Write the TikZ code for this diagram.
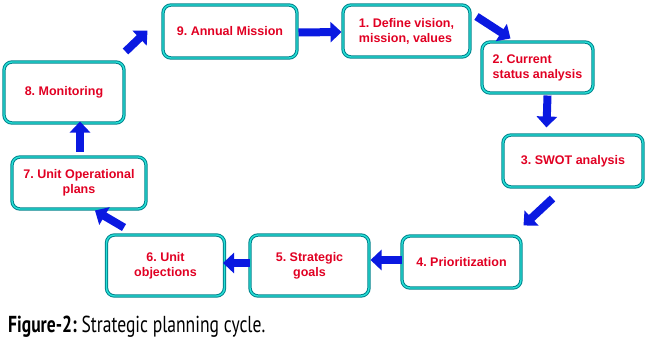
\documentclass[tikz,border=0pt]{standalone}
\usepackage{fontspec}
\usetikzlibrary{arrows.meta,calc}
\newfontfamily\boxfont{Liberation Sans}
\newfontfamily\capfont{PT Sans}
\frenchspacing
\definecolor{txtred}{RGB}{225,0,35}
\definecolor{arrblue}{RGB}{10,25,225}
\definecolor{tealdark}{RGB}{0,130,140}
\definecolor{cyanlight}{RGB}{40,225,215}
\tikzset{
  stagebox/.style={draw=tealdark, double=cyanlight, double distance=1.4pt, line width=1pt,
    rounded corners=8pt, fill=white, inner sep=0pt, align=center,
    font=\boxfont\bfseries\fontsize{12.5}{15}\selectfont\frenchspacing, text=txtred},
  flow/.style={draw=arrblue, line width=8pt, -{Triangle[width=20pt,length=11pt]}, arrblue}
}
\begin{document}
\begin{tikzpicture}[x=1pt,y=-1pt]
\useasboundingbox (0,0) rectangle (650,345);
\node[stagebox, minimum width=134pt, minimum height=53pt] (b9) at (230,31.5) {9. Annual Mission};
\node[stagebox, minimum width=127pt, minimum height=52pt, align=left] (b1) at (406.5,31) {1. Define vision,\\mission, values};
\node[stagebox, minimum width=111pt, minimum height=51pt, align=left] (b2) at (537.5,67.5) {2. Current\\status analysis};
\node[stagebox, minimum width=140pt, minimum height=52pt] (b3) at (573,161) {3. SWOT analysis};
\node[stagebox, minimum width=119pt, minimum height=52pt] (b4) at (461.5,262) {4. Prioritization};
\node[stagebox, minimum width=119pt, minimum height=61pt] (b5) at (309.5,265.5) {5. Strategic\\goals};
\node[stagebox, minimum width=118pt, minimum height=61pt] (b6) at (165.5,265.5) {6. Unit\\objections};
\node[stagebox, minimum width=134pt, minimum height=52pt] (b7) at (79,183) {7. Unit Operational\\plans};
\node[stagebox, minimum width=120pt, minimum height=61pt] (b8) at (64,92.5) {8. Monitoring};

\draw[flow] ($(b9.east)+(1,1)$) -- ($(b1.west)+(-1,1)$);
\draw[flow] ($(b1.north east)+(6,12)$) -- ($(b2.north west)+(29,-3)$);
\draw[flow] ($(b2.south)+(10,2)$) -- ($(b3.north west)+(44,-7)$);
\draw[flow] ($(b3.south west)+(50,11)$) -- ($(b4.north east)+(2,-10)$);
\draw[flow] ($(b4.west)+(0,-2)$) -- ($(b5.east)+(1,-5.5)$);
\draw[flow] ($(b5.west)+(0,-2.5)$) -- ($(b6.east)+(-2,-2.5)$);
\draw[flow] ($(b6.north west)+(18,-7)$) -- ($(b7.south)+(16,1)$);
\draw[flow] ($(b7.north)+(1,-5)$) -- ($(b8.south)+(16,-2)$);
\draw[flow] ($(b8.north east)+(1,-10)$) -- ($(b9.west)+(-15,-1)$);

\node[anchor=base west, inner sep=0pt] (cap) at (8,332)
  {\resizebox{257pt}{16.5pt}{\capfont\textbf{Figure-2:} Strategic planning cycle.}};
\end{tikzpicture}
\end{document}
